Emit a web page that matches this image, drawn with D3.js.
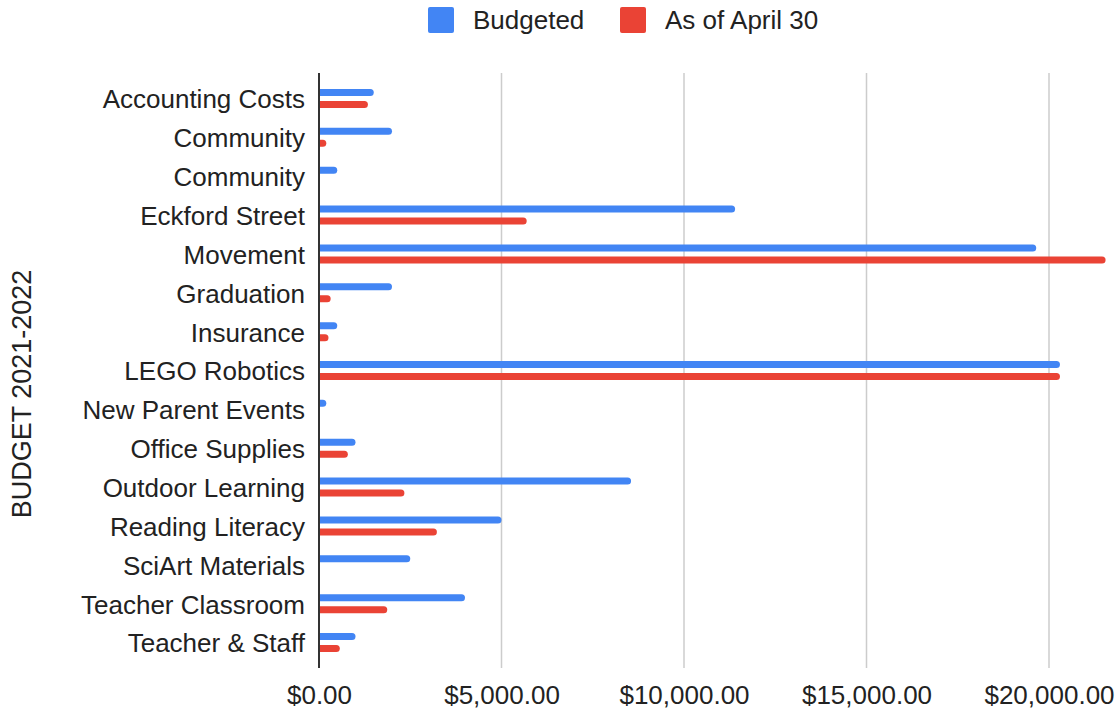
<!DOCTYPE html>
<html>
<head>
<meta charset="utf-8">
<script src="https://cdn.jsdelivr.net/npm/d3@7"></script>
<style>
  body { margin: 0; background: #fff; }
  text { font-family: "Liberation Sans", Arial, sans-serif; fill: #222; }
</style>
</head>
<body>
<svg></svg>
<script>
var categories = ["Accounting Costs", "Community", "Community", "Eckford Street", "Movement",
  "Graduation", "Insurance", "LEGO Robotics", "New Parent Events", "Office Supplies",
  "Outdoor Learning", "Reading Literacy", "SciArt Materials", "Teacher Classroom", "Teacher & Staff"];
var budgeted = [1500, 2000, 500, 11400, 19650, 2000, 500, 20300, 200, 1000, 8550, 5000, 2500, 4000, 1000];
var asOfApril = [1340, 200, 0, 5690, 21550, 320, 260, 20300, 0, 790, 2340, 3230, 0, 1870, 570];
var seriesNames = ["Budgeted", "As of April 30"];
var xTicks = [0, 5000, 10000, 15000, 20000];

function main() {
  var width = 1117, height = 717;
  var left = 319, top = 73, bottom = 668;
  var colors = ["#4285f4", "#ea4335"];

  var svg = d3.select("svg").attr("width", width).attr("height", height);

  var x = d3.scaleLinear().domain([0, 20000]).range([left, 1049]);
  var y = d3.scaleBand().domain(d3.range(categories.length)).range([79, 662]);

  // grid
  svg.append("g").selectAll("line")
    .data(xTicks.slice(1))
    .enter().append("line")
    .attr("x1", function(d) { return x(d); })
    .attr("x2", function(d) { return x(d); })
    .attr("y1", top).attr("y2", bottom)
    .attr("stroke", "#cccccc").attr("stroke-width", 1.5);

  var xAxis = d3.axisBottom(x).tickValues(xTicks).tickSize(0).tickPadding(0)
    .tickFormat(function(d) { return "$" + d3.format(",.2f")(d); });
  var gx = svg.append("g").attr("transform", "translate(0," + 686 + ")").call(xAxis);
  gx.select(".domain").remove();
  gx.selectAll("text").attr("font-size", 26).attr("font-family", "Liberation Sans, Arial, sans-serif")
    .attr("fill", "#222").attr("dy", "0.71em");

  var yAxis = d3.axisLeft(y).tickSize(0).tickPadding(14)
    .tickFormat(function(i) { return categories[i]; });
  var gy = svg.append("g").attr("transform", "translate(" + left + ",0)").call(yAxis);
  gy.select(".domain").remove();
  gy.selectAll("text").attr("font-size", 26).attr("font-family", "Liberation Sans, Arial, sans-serif")
    .attr("fill", "#222").attr("dy", "0.38em");

  svg.append("defs").append("clipPath").attr("id", "clip")
    .append("rect").attr("x", left).attr("y", 0).attr("width", width - left).attr("height", height);

  var barH = 7;
  var rows = categories.map(function(c, i) { return [budgeted[i], asOfApril[i]]; });
  var groups = svg.append("g").attr("clip-path", "url(#clip)")
    .selectAll("g").data(rows).enter().append("g")
    .attr("transform", function(d, i) { return "translate(0," + (y(i) + y.bandwidth() / 2) + ")"; });

  groups.selectAll("rect")
    .data(function(d) { return d; })
    .enter().filter(function(d) { return d > 0; })
    .append("rect")
    .attr("x", x(0) - 5)
    .attr("y", function(d, j) { return j === 0 ? -barH - 2.5 : 2.5; })
    .attr("width", function(d) { return x(d) - x(0) + 5; })
    .attr("height", barH)
    .attr("rx", barH / 2)
    .attr("fill", function(d, j) { return colors[j]; });

  // zero line
  svg.append("line").attr("x1", left).attr("x2", left).attr("y1", top).attr("y2", bottom)
    .attr("stroke", "#333").attr("stroke-width", 2);

  // axis title
  svg.append("text")
    .attr("transform", "translate(31,394) rotate(-90)")
    .attr("text-anchor", "middle").attr("font-size", 27)
    .text("BUDGET 2021-2022");

  // legend
  var legendX = [428, 620];
  var legend = svg.append("g").selectAll("g").data(seriesNames).enter().append("g")
    .attr("transform", function(d, i) { return "translate(" + legendX[i] + ",7)"; });
  legend.append("rect").attr("width", 26).attr("height", 26).attr("rx", 2)
    .attr("fill", function(d, i) { return colors[i]; });
  legend.append("text").attr("x", 45).attr("y", 22).attr("font-size", 26)
    .text(function(d) { return d; });
}

main();
</script>
</body>
</html>
